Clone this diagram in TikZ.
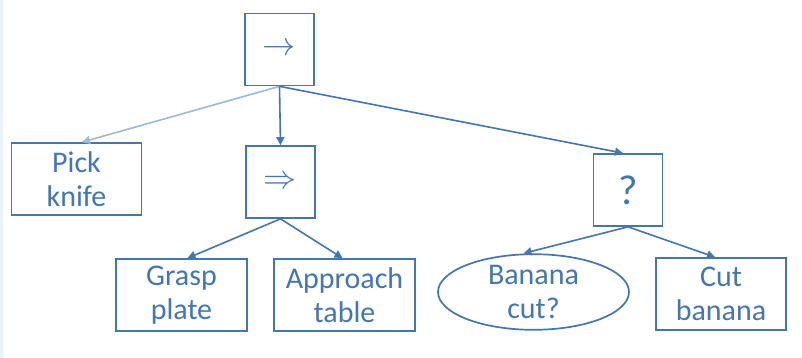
\documentclass[tikz,border=0pt]{standalone}
\usepackage{fontspec}
\setmainfont{Carlito}
\usetikzlibrary{arrows.meta,shapes.geometric}
\definecolor{treeblue}{HTML}{4177B4}
\definecolor{fadedblue}{HTML}{9BBAD8}
\definecolor{stripblue}{HTML}{E6F3FC}
\newcommand{\opsym}[1]{\scalebox{1.6}{$#1$}}
\begin{document}
\begin{tikzpicture}[x=1pt,y=-1pt,
  every node/.style={font=\fontsize{30}{34}\selectfont, text=treeblue, align=center, inner sep=0pt},
  ctrl/.style={draw=treeblue, line width=1.7pt, rectangle, minimum width=69pt, minimum height=72pt},
  leaf/.style={draw=treeblue, line width=1.7pt, rectangle, minimum width=130pt, minimum height=72pt},
  cond/.style={draw=treeblue, line width=1.7pt, ellipse, minimum width=191pt, minimum height=70pt},
  sym/.style={font=\fontsize{20}{24}\selectfont},
  edge/.style={draw=treeblue, line width=1.6pt, -{Triangle[length=8pt,width=8pt]}},
  fadededge/.style={draw=fadedblue, line width=1.6pt, -{Triangle[length=8pt,width=8pt]}}]
  % canvas
  \useasboundingbox (0,0) rectangle (802,358);
  \fill[white] (0,0) rectangle (802,358);
  \fill[stripblue] (0,0) rectangle (2.5,358);

  % control nodes
  \node[ctrl, sym] (seq) at (279.5,49.5) {\opsym{\rightarrow}};
  \node[ctrl, sym] (par) at (280.5,182) {\opsym{\Rightarrow}};
  \node[ctrl, font=\fontsize{42}{44}\selectfont] (fb) at (628,190) {?};

  % actions and condition
  \node[leaf] (pick)  at (76.5,179) {Pick\\knife};
  \node[leaf, minimum width=131pt] (grasp) at (181.5,295) {Grasp\\plate};
  \node[leaf, minimum width=141pt] (appr)  at (344.5,295) {Approach\\table};
  \node[cond] (cutq)  at (533.5,292) {Banana\\cut?};
  \node[leaf] (cut)   at (721,294) {Cut\\banana};

  % connectors
  \draw[fadededge] (seq.south) -- (pick.north -| 82,0);
  \draw[edge] (seq.south) -- (par.north);
  \draw[edge] (seq.south) -- ([xshift=-5pt]fb.north);
  \draw[edge] (par.south) -- ([xshift=6pt]grasp.north);
  \draw[edge] (par.south) -- ([xshift=-2pt]appr.north);
  \draw[edge] (fb.south) -- ([xshift=-10pt]cutq.north);
  \draw[edge] (fb.south) -- ([xshift=-6pt]cut.north);
\end{tikzpicture}
\end{document}
